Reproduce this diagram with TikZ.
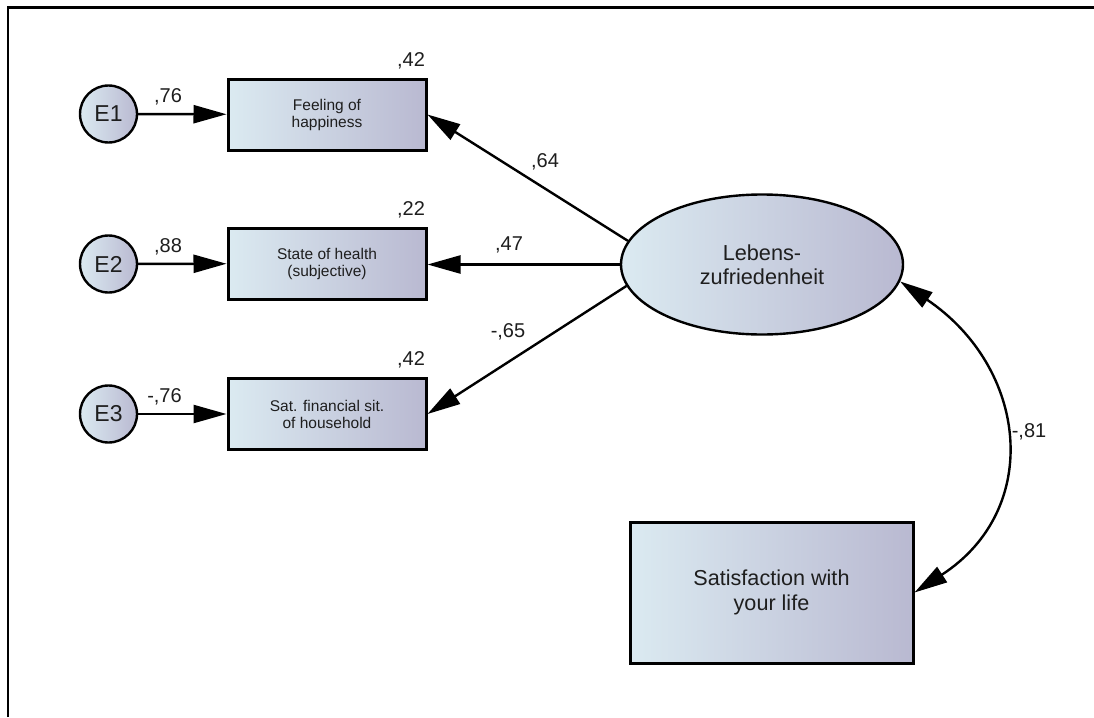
\documentclass[tikz,border=0pt]{standalone}
\usepackage{fontspec}
\setmainfont{Liberation Sans}
\usetikzlibrary{arrows.meta,shapes.geometric}
\definecolor{gl}{RGB}{219,234,241}
\definecolor{gr}{RGB}{185,185,209}
\definecolor{txt}{RGB}{30,30,30}
\begin{document}
\begin{tikzpicture}[x=1pt,y=-1pt,
  obs/.style={draw, line width=3pt, left color=gl, right color=gr, inner sep=0pt, align=center, text=txt},
  smallbox/.style={obs, minimum width=198pt, minimum height=71pt, font=\fontsize{15.5}{17}\selectfont},
  err/.style={circle, draw, line width=2.4pt, left color=gl, right color=gr, minimum size=57pt, inner sep=0pt, font=\fontsize{23}{26}\selectfont, text=txt},
  lat/.style={ellipse, draw, line width=2.4pt, left color=gl, right color=gr, minimum width=282pt, minimum height=140pt, inner sep=0pt, align=center, font=\fontsize{21.7}{24}\selectfont, text=txt},
  coef/.style={font=\fontsize{20}{22}\selectfont, text=txt, inner sep=0pt},
  arr/.style={draw, line width=2.4pt, -{Triangle[length=33pt,width=18pt]}},
  darr/.style={draw, line width=2.4pt, {Triangle[length=33pt,width=18pt]}-{Triangle[length=33pt,width=18pt]}},
]
\useasboundingbox (0,0) rectangle (1094,717);
\fill[white] (0,0) rectangle (1094,717);
% frame
\draw[line width=2.4pt] (8,717) -- (8,7.5) -- (1094,7.5);

% error terms
\node[err] (e1) at (108.5,114) {E1};
\node[err] (e2) at (108.5,264) {E2};
\node[err] (e3) at (108.5,414) {E3};

% indicators
\node[smallbox] (b1) at (327,114.5) {Feeling of\\happiness};
\node[smallbox] (b2) at (327,263.5) {State of health\\(subjective)};
\node[smallbox] (b3) at (327,414) {Sat. financial sit.\\of household};

% latent
\node[lat] (lz) at (762,264.5) {Lebens-\\zufriedenheit};

% satisfaction
\node[obs, minimum width=283pt, minimum height=141pt, font=\fontsize{21.6}{25}\selectfont] (sat) at (771.5,592.5) {Satisfaction with\\your life};

% error arrows
\draw[arr] (e1) -- (b1);
\draw[arr] (e2) -- (b2);
\draw[arr] (e3) -- (b3);

% loadings
\draw[arr] (lz.170.5) -- (b1.east);
\draw[arr] (lz.west) -- (lz.west -| b2.east);
\draw[arr] (lz.189.5) -- (b3.east);

% covariance
\draw[darr] (lz.-7.2) .. controls (1028,368) and (1043,509) .. (sat.east);

% coefficient labels
\node[coef] (c76) at (168,97) {,76};
\node[coef] (c88) at (168,247) {,88};
\node[coef] (cm76) at (164.5,397) {-,76};
\node[coef] (r1) at (411,61) {,42};
\node[coef] (r2) at (411,210) {,22};
\node[coef] (r3) at (411,360) {,42};
\node[coef] (l64) at (545,162) {,64};
\node[coef] (l47) at (509,245) {,47};
\node[coef] (l65) at (508,332) {-,65};
\node[coef] (c81) at (1029,432) {-,81};
\end{tikzpicture}
\end{document}
